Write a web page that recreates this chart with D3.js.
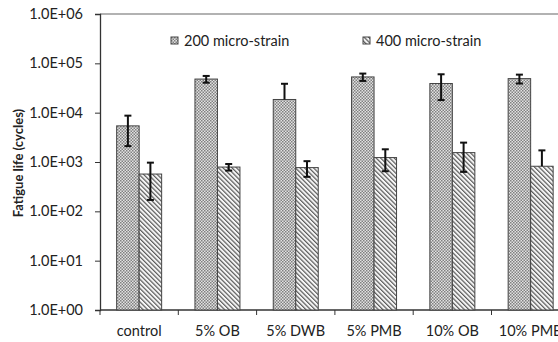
<!DOCTYPE html>
<html>
<head>
<meta charset="utf-8">
<script src="https://cdn.jsdelivr.net/npm/d3@7"></script>
<style>
  html, body { margin: 0; padding: 0; background: #fff; }
  svg { display: block; }
  text { font-family: Lato, "Open Sans", sans-serif; fill: #222; }
</style>
</head>
<body>
<svg id="chart" width="558" height="342"></svg>
<script>
// Mixture labels along the x axis
const categories = ["control", "5% OB", "5% DWB", "5% PMB", "10% OB", "10% PMB"];
const seriesNames = ["200 micro-strain", "400 micro-strain"];
// Mean fatigue life (cycles) per strain level
const life200 = [5400, 48000, 18500, 53000, 39000, 49000];
const life400 = [570, 790, 770, 1230, 1550, 820];
// Error bar half-widths (cycles)
const err200 = [3300, 7500, 20000, 9000, 21000, 10000];
const err400 = [400, 120, 270, 580, 920, 900];
const yTicks = [1, 10, 100, 1000, 10000, 100000, 1000000];

const svg = d3.select("#chart");
const plotLeft = 100, plotTop = 14, plotBottom = 310, bandW = 78.3;
const plotRight = plotLeft + bandW * categories.length;
const fontSize = 14.5;

const defs = svg.append("defs");
// checkered fill for the 200 micro-strain series
const p1 = defs.append("pattern").attr("id", "dots").attr("patternUnits", "userSpaceOnUse")
  .attr("width", 3).attr("height", 3);
p1.append("rect").attr("width", 3).attr("height", 3).attr("fill", "#e2e2e2");
p1.append("rect").attr("x", 0).attr("y", 0).attr("width", 1.5).attr("height", 1.5).attr("fill", "#808080");
p1.append("rect").attr("x", 1.5).attr("y", 1.5).attr("width", 1.5).attr("height", 1.5).attr("fill", "#808080");
// diagonal hatching for the 400 micro-strain series
const p2 = defs.append("pattern").attr("id", "hatch").attr("patternUnits", "userSpaceOnUse")
  .attr("width", 3.2).attr("height", 3.2).attr("patternTransform", "rotate(-45)");
p2.append("rect").attr("width", 3.2).attr("height", 3.2).attr("fill", "#f6f6f6");
p2.append("rect").attr("x", 0).attr("y", 0).attr("width", 1.2).attr("height", 3.2).attr("fill", "#5a5a5a");

const fills = ["url(#dots)", "url(#hatch)"];

const x = d3.scaleBand().domain(categories).range([plotLeft, plotRight]).paddingInner(0).paddingOuter(0);
const xs = d3.scaleBand().domain([0, 1]).range([0, x.bandwidth()]).paddingInner(0).paddingOuter(0.74);
const y = d3.scaleLog().domain([1, 1e6]).range([plotBottom, plotTop]);

// top frame line
svg.append("line").attr("x1", plotLeft).attr("x2", 558).attr("y1", plotTop).attr("y2", plotTop)
  .attr("stroke", "#666").attr("stroke-width", 1.2);

// y axis
const yAxis = svg.append("g").attr("transform", `translate(${plotLeft},0)`)
  .call(d3.axisLeft(y).tickValues(yTicks).tickSize(5).tickPadding(12)
    .tickFormat(d => "1.0E+" + String(Math.round(Math.log10(d))).padStart(2, "0")));
yAxis.select(".domain").attr("stroke", "#333").attr("stroke-width", 1.3);
yAxis.selectAll(".tick line").attr("stroke", "#333");
yAxis.selectAll(".tick text").attr("font-size", fontSize).attr("fill", "#222")
  .style("font-family", "Lato, 'Open Sans', sans-serif");

// x axis (ticks at band boundaries)
const xg = svg.append("g").attr("transform", `translate(0,${plotBottom})`);
xg.append("line").attr("x1", plotLeft).attr("x2", 558).attr("stroke", "#333").attr("stroke-width", 1.3);
const bounds = d3.range(categories.length + 1).map(i => plotLeft + i * bandW);
xg.selectAll("line.tk").data(bounds).join("line").attr("class", "tk")
  .attr("x1", d => d).attr("x2", d => d).attr("y1", 0).attr("y2", 5).attr("stroke", "#333");
xg.selectAll("text").data(categories).join("text")
  .attr("x", d => x(d) + x.bandwidth() / 2).attr("y", 26)
  .attr("text-anchor", "middle").attr("font-size", fontSize).text(d => d);

// y axis title
svg.append("text").attr("transform", `translate(23,${(plotTop + plotBottom) / 2 + 1}) rotate(-90)`)
  .attr("text-anchor", "middle").attr("font-size", 13).attr("font-weight", "bold")
  .text("Fatigue life (cycles)");

// bars
const series = [life200, life400];
const errs = [err200, err400];
series.forEach((vals, s) => {
  svg.append("g").selectAll("rect").data(categories).join("rect")
    .attr("x", (c) => x(c) + xs(s))
    .attr("width", xs.bandwidth())
    .attr("y", (c, i) => y(vals[i]))
    .attr("height", (c, i) => plotBottom - y(vals[i]))
    .attr("fill", fills[s]).attr("stroke", "#444").attr("stroke-width", 1);
});

// error bars
series.forEach((vals, s) => {
  const g = svg.append("g").attr("stroke", "#111").attr("stroke-width", 2);
  categories.forEach((c, i) => {
    const cx = x(c) + xs(s) + xs.bandwidth() / 2;
    const hi = vals[i] + errs[s][i];
    const lo = vals[i] - errs[s][i];
    const yHi = y(hi);
    const yLo = lo > 0 ? y(lo) : y(vals[i]);
    g.append("line").attr("x1", cx).attr("x2", cx).attr("y1", yHi).attr("y2", yLo);
    g.append("line").attr("x1", cx - 3.5).attr("x2", cx + 3.5).attr("y1", yHi).attr("y2", yHi);
    if (lo > 0) g.append("line").attr("x1", cx - 3.5).attr("x2", cx + 3.5).attr("y1", yLo).attr("y2", yLo);
  });
});

// legend
const legendX = [171, 363];
seriesNames.forEach((name, s) => {
  const lg = svg.append("g").attr("transform", `translate(${legendX[s]},37)`);
  lg.append("rect").attr("width", 7).attr("height", 7).attr("fill", fills[s])
    .attr("stroke", "#444").attr("stroke-width", 1);
  lg.append("text").attr("x", 13).attr("y", 8.5).attr("font-size", fontSize).text(name);
});
</script>
</body>
</html>
